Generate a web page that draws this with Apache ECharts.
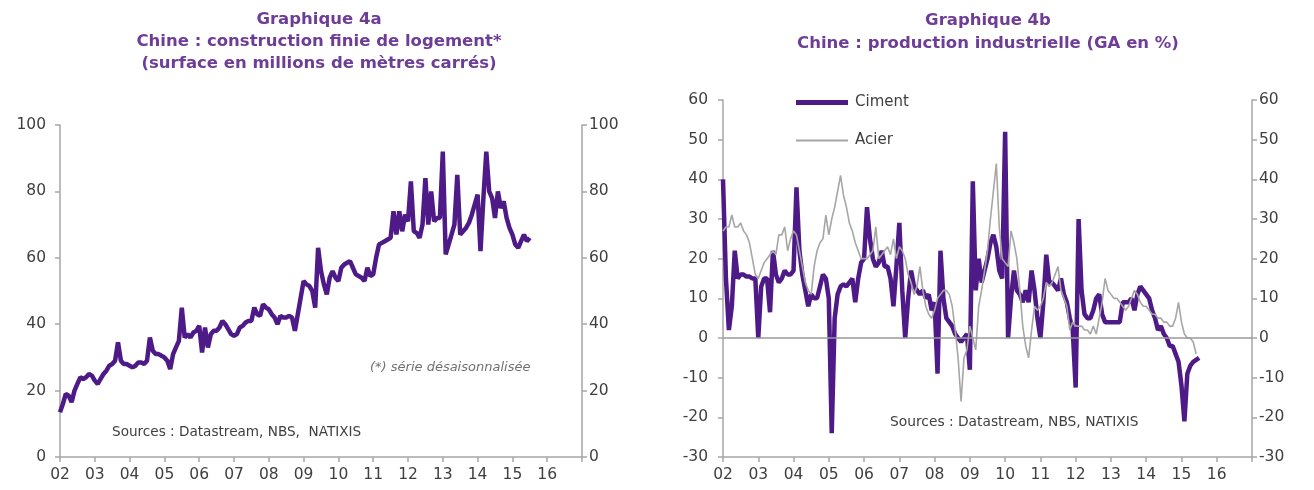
<!DOCTYPE html>
<html>
<head>
<meta charset="utf-8">
<script src="https://cdn.jsdelivr.net/npm/echarts@6/dist/echarts.min.js"></script>
<style>
html,body{margin:0;padding:0;background:#fff;}
#chart{width:1314px;height:490px;}
</style>
</head>
<body>
<div id="chart"></div>
<script>
// Monthly data, first value = January 2002
const startYear = 2002;
const housing = [
  13.5, 16, 19, 18.5, 16.5, 20, 22, 24, 23.5, 24, 25, 24.5,
  23, 22, 23.5, 25, 26, 27.5, 28, 29, 34.5, 29, 28, 28,
  27.5, 27, 27.5, 28.5, 28.5, 28, 29, 36, 32, 31, 31, 30.5,
  30, 29, 26.5, 31, 33, 35, 45, 36, 37, 36, 37.5, 38,
  39.5, 31.5, 39, 33, 37, 38, 38, 39, 41, 40, 38.5, 37,
  36.5, 37, 39, 39.5, 40.5, 41, 41, 45, 43, 42.5, 46, 45,
  44.5, 43, 42, 40, 42.5, 42, 42, 42.5, 42, 38, 43, 48,
  53, 52, 51.5, 50, 45, 63, 56, 52, 49, 54, 56, 54,
  53, 57, 58, 58.5, 59, 57, 55, 54.5, 54, 53, 57, 54.5,
  55, 60, 64, 64.5, 65, 65.5, 66, 74, 67, 74, 68, 73,
  71, 83, 68, 67.5, 66, 70, 84, 70, 80, 71, 72, 72,
  92, 61, 64, 67, 70, 85, 67, 68, 69, 70.5, 73, 76,
  79, 62, 78, 92, 80, 78, 72, 80, 75, 77, 72, 69,
  67, 64, 63, 65, 67, 65, 66
];
const ciment = [
  40, 15, 2, 8, 22, 15, 16, 16, 15.5, 15.5, 15, 15,
  0, 13, 15, 15, 6.5, 22, 16, 14, 15, 17, 16, 16,
  17, 38, 22, 16, 12, 8, 11, 10, 10, 13, 16, 15,
  10, -24, 5, 11, 13, 13.5, 13, 14, 15, 9, 15, 19,
  20, 33, 25, 20, 18, 19, 22, 18, 18, 15, 8, 18,
  29, 12, 0, 10, 17, 13, 12, 11, 12, 10, 11, 7,
  9, -9, 22, 10, 5, 4, 3, 1, 0, -1, 0, 1,
  -8, 39.5, 12, 20, 14, 17, 20, 24, 26, 23, 17, 15,
  52, 0, 10, 17, 12, 11, 9, 12, 9, 17, 12, 5,
  0, 9, 21, 14, 14, 13, 12, 15, 11, 9, 5, 2,
  -12.5, 30, 12, 6, 5, 5, 7, 10, 11, 6, 4, 4,
  4, 4, 4, 4, 9, 9, 9, 10, 7, 11, 13, 12,
  11, 10, 7, 5, 2, 3, 1, 0, -2, -2, -4, -6,
  -12, -21, -9, -7, -6, -5.5, -5
];
const acier = [
  27, 28, 28, 31, 28, 28, 29, 27, 26, 24, 20, 16,
  15, 17, 19, 20, 21, 22, 21, 26, 26, 28, 22, 25,
  27, 26, 22, 18, 14, 12, 11, 18, 22, 24, 25, 31,
  26, 30, 33, 37, 41, 36, 33, 29, 27, 24, 22, 20,
  20, 20, 21, 22, 28, 20, 21, 22, 23, 21, 25, 20,
  23, 22, 20, 16, 14, 11, 13, 18, 12, 8, 6, 5,
  7, 10, 11, 12, 12, 11, 8, 2, -5, -16, -5, -3,
  3, 0, -3, 8, 12, 17, 22, 30, 37, 44, 28, 20,
  19, 18, 27, 24, 20, 12, 3, -2, -5, 2, 8, 7,
  8, 10, 14, 13, 14, 16, 18, 12, 10, 8, 2, 4,
  3, 3, 3, 2, 2, 1, 3, 1, 5, 9, 15, 12,
  11, 10, 10, 9, 8, 7, 8, 10, 12, 11, 9, 8,
  8, 7, 6, 6, 5, 5, 4, 4, 3, 3, 5, 9,
  4, 1, 0, 0, -1, -4
];
const xTickLabels = ['02','03','04','05','06','07','08','09','10','11','12','13','14','15','16'];
const leftYTicks = [0, 100, 20];   // min, max, step
const rightYTicks = [-30, 60, 10];

const toPoints = arr => arr.map((v, i) => [startYear + i / 12, v]);

const FONT = 'DejaVu Sans';
const TITLE_COLOR = '#6e3d96';
const AXIS_COLOR = '#a6a6a6';
const LABEL_COLOR = '#3f3f3f';
const PURPLE = '#4e1a87';
const GREY = '#a6a6a6';

function xAxis(gridIndex) {
  return {
    type: 'value', gridIndex, min: 2002, max: 2017, interval: 1,
    axisLine: { onZero: false, lineStyle: { color: AXIS_COLOR, width: 1.5 } },
    axisTick: { show: true, length: 5, lineStyle: { color: AXIS_COLOR, width: 1.5 } },
    axisLabel: {
      margin: 10, color: LABEL_COLOR, fontFamily: FONT, fontSize: 15.5,
      formatter: v => xTickLabels[Math.round(v) - startYear] || ''
    },
    splitLine: { show: false }
  };
}
function yAxis(gridIndex, pos, ticks, margin) {
  return {
    type: 'value', gridIndex, position: pos, min: ticks[0], max: ticks[1], interval: ticks[2],
    axisLine: { show: true, lineStyle: { color: AXIS_COLOR, width: 1.5 } },
    axisTick: { show: true, length: 5, lineStyle: { color: AXIS_COLOR, width: 1.5 } },
    axisLabel: { margin, color: LABEL_COLOR, fontFamily: FONT, fontSize: 15.5 },
    splitLine: { show: false }
  };
}
function legendBox(name, top, h) {
  return {
    data: [{ name, icon: 'rect' }],
    left: 791, top, itemWidth: 52, itemHeight: h, itemGap: 0,
    selectedMode: false,
    textStyle: { fontFamily: FONT, fontSize: 15, color: LABEL_COLOR, padding: [0, 0, 0, 2] }
  };
}

const chart = echarts.init(document.getElementById('chart'), null, { renderer: 'canvas' });
chart.setOption({
  animation: false,
  backgroundColor: '#fff',
  title: [
    {
      text: 'Graphique 4a\nChine : construction finie de logement*\n(surface en millions de mètres carrés)',
      left: 314, top: 4, textAlign: 'center',
      textStyle: { color: TITLE_COLOR, fontFamily: FONT, fontWeight: 'bold', fontSize: 16.5, lineHeight: 22 }
    },
    {
      text: 'Graphique 4b\nChine : production industrielle (GA en %)',
      left: 983, top: 4, textAlign: 'center',
      textStyle: { color: TITLE_COLOR, fontFamily: FONT, fontWeight: 'bold', fontSize: 16.5, lineHeight: 23 }
    }
  ],
  legend: [
    legendBox('Ciment', 90, 5),
    legendBox('Acier', 128, 2)
  ],
  grid: [
    { left: 60, right: 732, top: 125, bottom: 33 },
    { left: 723, right: 62, top: 100, bottom: 33 }
  ],
  xAxis: [xAxis(0), xAxis(1)],
  yAxis: [
    yAxis(0, 'left', leftYTicks, 14),
    yAxis(0, 'right', leftYTicks, 7),
    yAxis(1, 'left', rightYTicks, 15),
    yAxis(1, 'right', rightYTicks, 7)
  ],
  graphic: [
    { type: 'text', left: 370, top: 361, style: { text: '(*) série désaisonnalisée', fontFamily: FONT, fontStyle: 'italic', fontSize: 13, fill: '#707070' } },
    { type: 'text', left: 112, top: 425, style: { text: 'Sources : Datastream, NBS,  NATIXIS', fontFamily: FONT, fontSize: 13.6, fill: '#404040' } },
    { type: 'text', left: 890, top: 415, style: { text: 'Sources : Datastream, NBS, NATIXIS', fontFamily: FONT, fontSize: 13.8, fill: '#404040' } }
  ],
  series: [
    {
      name: 'Logement', type: 'line', xAxisIndex: 0, yAxisIndex: 0,
      data: toPoints(housing), symbol: 'none', showSymbol: false,
      lineStyle: { color: PURPLE, width: 4.5 }, itemStyle: { color: PURPLE }
    },
    {
      name: 'Ciment', type: 'line', xAxisIndex: 1, yAxisIndex: 2,
      data: toPoints(ciment), symbol: 'none', showSymbol: false,
      lineStyle: { color: PURPLE, width: 4.5 }, itemStyle: { color: PURPLE },
      markLine: {
        silent: true, symbol: 'none', label: { show: false },
        lineStyle: { color: '#9a9a9a', width: 1.5, type: 'solid' },
        data: [{ yAxis: 0 }]
      },
      z: 2
    },
    {
      name: 'Acier', type: 'line', xAxisIndex: 1, yAxisIndex: 2,
      data: toPoints(acier), symbol: 'none', showSymbol: false,
      lineStyle: { color: GREY, width: 1.6 }, itemStyle: { color: GREY },
      z: 3
    }
  ]
});
</script>
</body>
</html>
